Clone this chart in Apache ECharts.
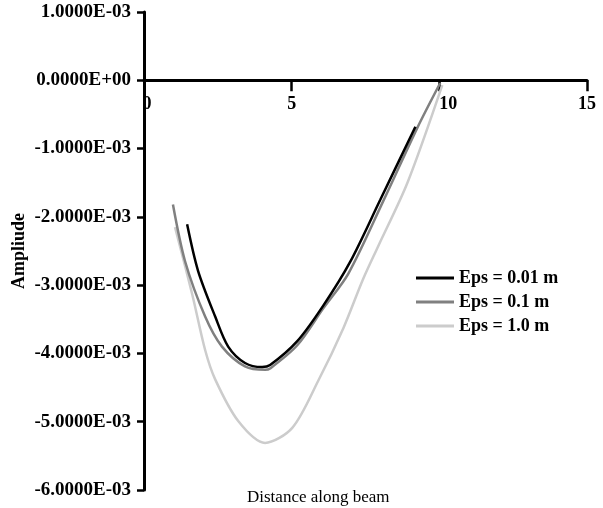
<!DOCTYPE html>
<html>
<head>
<meta charset="utf-8">
<script src="https://cdn.jsdelivr.net/npm/echarts@6/dist/echarts.min.js"></script>
<style>
    html, body { margin: 0; padding: 0; background: #fff; }
    #chart { width: 603px; height: 508px; }
</style>
</head>
<body>
<div id="chart"></div>
<script>
    // axis ticks
    let xTicks = [0, 5, 10, 15];
    let yTicks = [-0.006, -0.005, -0.004, -0.003, -0.002, -0.001, 0, 0.001];

    // legend names
    let seriesNames = ['Eps = 0.01 m', 'Eps = 0.1 m', 'Eps = 1.0 m'];

    // Eps = 0.01 m
    let xEps001 = [1.46, 1.83, 2.41, 2.85, 3.42, 4.00, 4.27, 5.19, 6.07, 6.98, 8.00, 9.19];
    let yEps001 = [-2.11e-3, -2.79e-3, -3.46e-3, -3.90e-3, -4.14e-3, -4.20e-3, -4.17e-3, -3.82e-3, -3.30e-3, -2.66e-3, -1.75e-3, -0.68e-3];

    // Eps = 0.1 m
    let xEps01 = [0.98, 1.39, 2.07, 2.64, 3.42, 4.10, 4.27, 5.19, 6.07, 6.92, 8.10, 9.25, 10.03];
    let yEps01 = [-1.82e-3, -2.65e-3, -3.46e-3, -3.90e-3, -4.19e-3, -4.24e-3, -4.22e-3, -3.88e-3, -3.34e-3, -2.83e-3, -1.77e-3, -0.70e-3, -0.04e-3];

    // Eps = 1.0 m
    let xEps1 = [1.05, 1.63, 2.07, 2.41, 3.19, 4.10, 5.02, 5.90, 6.75, 7.42, 7.93, 8.92, 10.10];
    let yEps1 = [-2.15e-3, -3.13e-3, -3.95e-3, -4.38e-3, -4.99e-3, -5.31e-3, -5.09e-3, -4.40e-3, -3.63e-3, -2.91e-3, -2.43e-3, -1.50e-3, -0.07e-3];

    let colorList = ['#000000', '#808080', '#cccccc'];
    let font = 'Liberation Serif';

    // grid box
    let gridTop = 12;
    let gridBottom = 18;
    let gridHeight = 508 - gridTop - gridBottom;

    // 1.0000E-03 style labels
    function sciLabel(v) {
        let s = Number(v).toExponential(4);
        let parts = s.split('e');
        let exp = parts[1];
        let sign = exp[0];
        let digits = exp.slice(1).padStart(2, '0');
        if (parts[0] === '-0.0000') parts[0] = '0.0000';
        return parts[0] + 'E' + sign + digits;
    }

    // x labels: 0 and 10 sit a bit right of their ticks
    function xLabel(v) {
        if (v === 0) return '{a|' + v + '}';
        if (v === 10) return '{b|' + v + '}';
        return '' + v;
    }

    function pairs(xs, ys) {
        return xs.map((x, i) => [x, ys[i]]);
    }

    // move the x axis up to y = 0
    let yMin = yTicks[0];
    let yMax = yTicks[yTicks.length - 1];
    let xAxisOffset = -gridHeight * (0 - yMin) / (yMax - yMin);

    let myChart = echarts.init(document.getElementById('chart'));

    let lineSeries = [
        {x: xEps001, y: yEps001},
        {x: xEps01, y: yEps01},
        {x: xEps1, y: yEps1}
    ].map((s, i) => ({
        name: seriesNames[i],
        type: 'line',
        data: pairs(s.x, s.y),
        smooth: 0.3,
        symbol: 'none',
        lineStyle: {color: colorList[i], width: 2.5},
        itemStyle: {color: colorList[i]},
        z: 3 - i
    }));

    let labelText = {color: '#000', fontFamily: font, fontWeight: 'bold', fontSize: 18};

    let option = {
        animation: false,
        backgroundColor: '#fff',
        grid: {
            left: 144,
            right: 16,
            top: gridTop,
            bottom: gridBottom,
            outerBoundsMode: 'none'
        },
        xAxis: {
            type: 'value',
            min: xTicks[0],
            max: xTicks[xTicks.length - 1],
            interval: 5,
            position: 'bottom',
            offset: xAxisOffset,
            axisLine: {show: true, onZero: false, lineStyle: {color: '#000', width: 3}},
            axisTick: {show: true, length: 11, lineStyle: {color: '#000', width: 2.5}},
            axisLabel: Object.assign({
                show: true,
                margin: 15,
                showMinLabel: true,
                showMaxLabel: true,
                formatter: xLabel,
                rich: {
                    a: Object.assign({padding: [0, 0, 0, 6]}, labelText),
                    b: Object.assign({padding: [0, 0, 0, 18]}, labelText)
                }
            }, labelText),
            splitLine: {show: false}
        },
        yAxis: {
            type: 'value',
            min: yMin,
            max: yMax,
            interval: 0.001,
            name: 'Ampliude',
            nameLocation: 'middle',
            nameGap: 116,
            nameMoveOverlap: false,
            nameRotate: 90,
            nameTextStyle: labelText,
            axisLine: {show: true, lineStyle: {color: '#000', width: 3}},
            axisTick: {show: true, length: 7, lineStyle: {color: '#000', width: 2.5}},
            axisLabel: {
                show: true,
                margin: 13,
                color: '#000',
                fontFamily: font,
                fontWeight: 'bold',
                fontSize: 19,
                formatter: sciLabel
            },
            splitLine: {show: false}
        },
        legend: {
            orient: 'vertical',
            left: 411,
            top: 264,
            icon: 'rect',
            itemWidth: 38,
            itemHeight: 3,
            itemGap: 6,
            data: seriesNames,
            textStyle: labelText
        },
        graphic: [{
            type: 'text',
            left: 247,
            top: 489,
            style: {
                text: 'Distance along beam',
                fill: '#000',
                font: '17px "Liberation Serif"'
            }
        }],
        series: lineSeries
    };

    myChart.setOption(option);
</script>
</body>
</html>
